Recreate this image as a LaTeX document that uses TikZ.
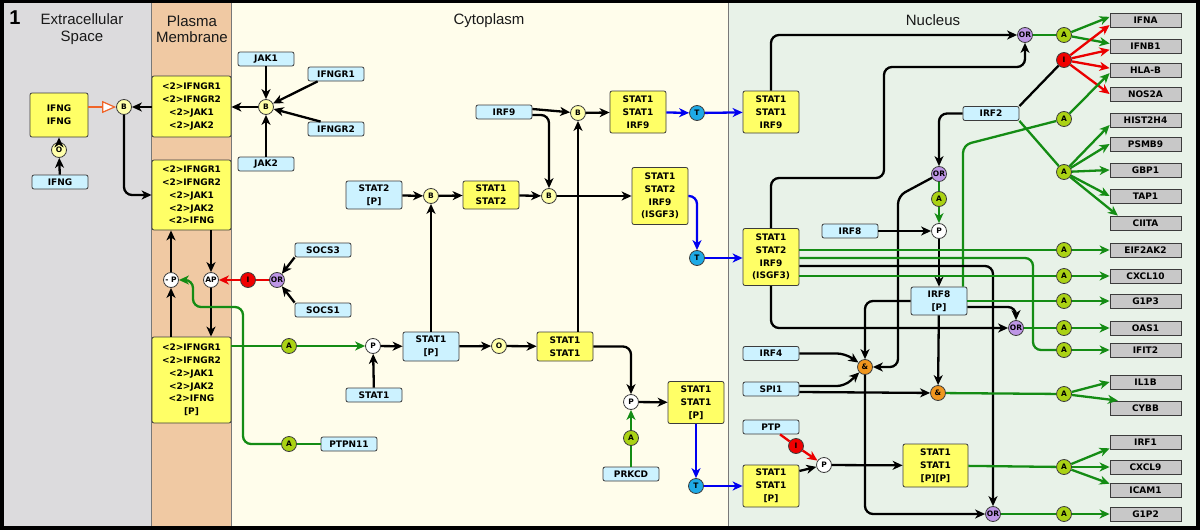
\documentclass[tikz,border=0pt]{standalone}
\usepackage{fontspec}
\setmainfont{Liberation Sans}
\newfontfamily\boxfont{DejaVu Sans}
\usetikzlibrary{arrows.meta}
\definecolor{extra}{RGB}{220,219,221}
\definecolor{membr}{RGB}{240,201,163}
\definecolor{cyto}{RGB}{255,253,235}
\definecolor{nucl}{RGB}{232,242,232}
\definecolor{boxline}{RGB}{60,60,60}
\definecolor{cplxfill}{RGB}{255,255,102}
\definecolor{protfill}{RGB}{204,242,255}
\definecolor{genefill}{RGB}{200,200,200}
\definecolor{actc}{RGB}{170,210,20}
\definecolor{bindc}{RGB}{255,255,170}
\definecolor{orc}{RGB}{190,150,230}
\definecolor{trc}{RGB}{30,170,230}
\definecolor{andc}{RGB}{240,150,30}
\definecolor{inhc}{RGB}{240,0,0}
\definecolor{actline}{RGB}{20,140,20}
\definecolor{trline}{RGB}{0,0,240}
\definecolor{inhline}{RGB}{235,0,0}
\definecolor{orgline}{RGB}{240,100,40}
\definecolor{divline}{RGB}{120,120,120}
\tikzset{
  hdr/.style={align=center, text=black!90, font=\fontsize{15}{16.5}\selectfont, inner sep=0pt},
  cplx/.style={draw=boxline, fill=cplxfill, rounded corners=2pt, line width=0.8pt, inner sep=0pt,
    align=center, minimum width=56pt, font=\boxfont\bfseries\fontsize{9}{12.8}\selectfont},
  prot/.style={cplx, fill=protfill, minimum height=14pt},
  gene/.style={cplx, fill=genefill, rounded corners=0pt, minimum width=71pt, minimum height=14pt},
  op/.style={circle, draw=boxline, fill=#1, line width=0.8pt, inner sep=0pt, minimum size=15pt,
    font=\boxfont\bfseries\fontsize{7.5}{8}\selectfont},
  ln/.style={line width=2.3pt, rounded corners=8pt},
  ar/.style={ln, -{Stealth[length=10pt,width=9pt,inset=3pt]}},
  gln/.style={ln, draw=actline},
  gar/.style={ar, draw=actline},
  rln/.style={ln, draw=inhline},
  rar/.style={ar, draw=inhline},
  bar/.style={ar, draw=trline},
  oar/.style={line width=2.3pt, draw=orgline, -{Triangle[length=14pt,width=12pt,fill=white,line width=1.2pt]}}
}
\begin{document}
\begin{tikzpicture}[x=1pt,y=-1pt]
\useasboundingbox (0,0) rectangle (1200,530);
\fill[black] (0,0) rectangle (1200,530);
\fill[extra] (4,3) rectangle (151,526);
\fill[membr] (151,3) rectangle (231,526);
\fill[cyto] (231,3) rectangle (728,526);
\fill[nucl] (728,3) rectangle (1196,526);
\draw[divline, line width=0.8pt] (151,3) -- (151,526);
\draw[divline, line width=0.8pt] (231,3) -- (231,526);
\draw[divline, line width=0.8pt] (728,3) -- (728,526);
\node[inner sep=0pt, font=\bfseries\fontsize{20}{20}\selectfont] (num) at (15,18) {1};
\node[hdr] (hext) at (82,29) {Extracellular\\Space};
\node[hdr] (hmem) at (192,29) {Plasma\\Membrane};
\node[hdr] (hcyt) at (489,21) {Cytoplasm};
\node[hdr] (hnuc) at (933,20) {Nucleus};

\node[cplx, minimum width=58pt, minimum height=44pt] (ifngg) at (59,115) {IFNG\\IFNG};
\node[op=bindc] (bnd1) at (124,107) {B};
\node[op=bindc] (olig1) at (59,150) {O};
\node[prot] (ifng) at (60,182) {IFNG};

\node[cplx, minimum width=79pt, minimum height=61pt] (rcx1) at (191.5,106.5) {<2>IFNGR1\\<2>IFNGR2\\<2>JAK1\\<2>JAK2};
\node[cplx, minimum width=79pt, minimum height=70pt] (rcx2) at (191.5,195) {<2>IFNGR1\\<2>IFNGR2\\<2>JAK1\\<2>JAK2\\<2>IFNG};
\node[cplx, minimum width=79pt, minimum height=86pt] (rcx3) at (191.5,380) {<2>IFNGR1\\<2>IFNGR2\\<2>JAK1\\<2>JAK2\\<2>IFNG\\{[P]}};
\node[op=white] (dphos) at (171,280) {- P};
\node[op=white] (autop) at (211,280) {AP};

\node[op=bindc] (bnd2) at (266,107) {B};
\node[prot] (jak1) at (266,59) {JAK1};
\node[prot] (ifngr1) at (336,74) {IFNGR1};
\node[prot] (ifngr2) at (336,129) {IFNGR2};
\node[prot] (jak2) at (266,164) {JAK2};
\node[op=inhc] (inh1) at (248,280) {I};
\node[op=orc] (or1) at (277,280) {OR};
\node[prot] (socs3) at (323,250) {SOCS3};
\node[prot] (socs1) at (323,310) {SOCS1};
\node[op=actc] (act1) at (289,346) {A};
\node[op=actc] (act2) at (289,444) {A};
\node[prot] (ptpn11) at (349,444) {PTPN11};
\node[op=white] (phos1) at (373,346) {P};
\node[prot] (stat1) at (374,395) {STAT1};
\node[prot, minimum height=29pt] (stat1p) at (431,346.5) {STAT1\\{[P]}};
\node[prot, minimum height=28pt] (stat2p) at (374,195) {STAT2\\{[P]}};
\node[op=bindc] (bnd3) at (431,196) {B};
\node[cplx, minimum height=28pt] (s1s2) at (491,195) {STAT1\\STAT2};
\node[op=bindc] (bnd4) at (549,196) {B};
\node[cplx, minimum height=57pt] (isgf3c) at (660,196) {STAT1\\STAT2\\IRF9\\(ISGF3)};
\node[prot] (irf9) at (504,112) {IRF9};
\node[op=bindc] (bnd5) at (578,113) {B};
\node[cplx, minimum height=42pt] (s1s1i9c) at (638,112) {STAT1\\STAT1\\IRF9};
\node[op=trc] (tr1) at (697,113) {T};
\node[op=trc] (tr2) at (697,258) {T};
\node[op=bindc] (olig2) at (499,346) {O};
\node[cplx, minimum height=29pt] (s1s1) at (565,346.5) {STAT1\\STAT1};
\node[op=white] (phos2) at (631,402) {P};
\node[cplx, minimum height=42pt] (s1s1pc) at (696,402.5) {STAT1\\STAT1\\{[P]}};
\node[op=actc] (act3) at (631,438) {A};
\node[prot] (prkcd) at (631,474) {PRKCD};
\node[op=trc] (tr3) at (696,486) {T};

\node[cplx, minimum height=42pt] (s1s1i9n) at (771,112) {STAT1\\STAT1\\IRF9};
\node[cplx, minimum height=57pt] (isgf3n) at (771,257) {STAT1\\STAT2\\IRF9\\(ISGF3)};
\node[cplx, minimum height=42pt] (s1s1pn) at (771,486) {STAT1\\STAT1\\{[P]}};
\node[prot] (irf2) at (991,113.5) {IRF2};
\node[op=orc] (or2) at (1025,35) {OR};
\node[op=orc] (or3) at (939,174) {OR};
\node[op=orc] (or4) at (1016,328) {OR};
\node[op=orc] (or5) at (993,514) {OR};
\node[op=inhc] (inh2) at (1064,60) {I};
\node[prot] (irf8) at (850,231) {IRF8};
\node[op=white] (phos3) at (939,231) {P};
\node[op=actc] (act4) at (939,199) {A};
\node[prot, minimum height=28pt] (irf8p) at (939,301) {IRF8\\{[P]}};
\node[prot] (irf4) at (771,353.5) {IRF4};
\node[prot] (spi1) at (771,389) {SPI1};
\node[prot] (ptp) at (771,427) {PTP};
\node[op=andc] (and1) at (865,367) {\&};
\node[op=andc] (and2) at (938,393) {\&};
\node[op=inhc] (inh3) at (796,446) {I};
\node[op=white] (phos4) at (824,465) {P};
\node[cplx, minimum width=65pt, minimum height=43pt] (s1s1ppn) at (935.5,465.5) {STAT1\\STAT1\\{[P][P]}};

\node[op=actc] (ga1) at (1064,35) {A};
\node[op=actc] (ga2) at (1064,119) {A};
\node[op=actc] (ga3) at (1064,172) {A};
\node[op=actc] (ga4) at (1064,250) {A};
\node[op=actc] (ga5) at (1064,276) {A};
\node[op=actc] (ga6) at (1064,301) {A};
\node[op=actc] (ga7) at (1064,328) {A};
\node[op=actc] (ga8) at (1064,350) {A};
\node[op=actc] (ga9) at (1064,394) {A};
\node[op=actc] (ga10) at (1064,467) {A};
\node[op=actc] (ga11) at (1064,514) {A};

\node[gene] (ifna) at (1145.5,20) {IFNA};
\node[gene] (ifnb1) at (1145.5,46) {IFNB1};
\node[gene] (hlab) at (1145.5,70) {HLA-B};
\node[gene] (nos2a) at (1145.5,94) {NOS2A};
\node[gene] (hist) at (1145.5,120) {HIST2H4};
\node[gene] (psmb9) at (1145.5,144) {PSMB9};
\node[gene] (gbp1) at (1145.5,170) {GBP1};
\node[gene] (tap1) at (1145.5,196) {TAP1};
\node[gene] (ciita) at (1145.5,223) {CIITA};
\node[gene] (eif) at (1145.5,250) {EIF2AK2};
\node[gene] (cxcl10) at (1145.5,276) {CXCL10};
\node[gene] (gip3) at (1145.5,301) {G1P3};
\node[gene] (oas1) at (1145.5,328) {OAS1};
\node[gene] (ifit2) at (1145.5,350) {IFIT2};
\node[gene] (il1b) at (1145.5,382) {IL1B};
\node[gene] (cybb) at (1145.5,408) {CYBB};
\node[gene] (irf1) at (1145.5,442) {IRF1};
\node[gene] (cxcl9) at (1145.5,467) {CXCL9};
\node[gene] (icam1) at (1145.5,490) {ICAM1};
\node[gene] (gip2) at (1145.5,514) {G1P2};

\draw[ar] (ifng) -- (olig1);
\draw[ar] (olig1) -- (ifngg);
\draw[oar] (ifngg.east |- bnd1) -- (bnd1);
\draw[ar] (rcx1.west |- bnd1) -- (bnd1);
\draw[ar] (bnd1) |- (rcx2);
\draw[ar] (bnd2) -- (rcx1.east |- bnd2);
\draw[ar] (jak1) -- (bnd2);
\draw[ar] (jak2) -- (bnd2);
\draw[ar] ([xshift=10pt]ifngr1.south west) -- (bnd2);
\draw[ar] ([xshift=13pt]ifngr2.north west) -- (bnd2);
\draw[ar] (rcx2.south -| autop) -- (autop);
\draw[ar] (autop) -- (rcx3.north -| autop);
\draw[ar] (rcx3.north -| dphos) -- (dphos);
\draw[ar] (dphos) -- (rcx2.south -| dphos);
\draw[rln] (or1) -- (inh1);
\draw[rar] (inh1) -- (autop);
\draw[ar] (socs3.south west) -- (or1);
\draw[ar] (socs1.north west) -- (or1);
\draw[gln] (ptpn11) -- (act2);
\draw[gar] (act2) -| (243,307) -| (193,280) -- (dphos);
\draw[gln] (rcx3.east |- act1) -- (act1);
\draw[gar] (act1) -- (phos1);

\draw[ar] (stat1) -- (phos1);
\draw[ar] (phos1) -- (stat1p);
\draw[ar] (stat1p) -- (bnd3);
\draw[ar] (stat2p) -- (bnd3);
\draw[ar] (bnd3) -- (s1s2);
\draw[ar] (s1s2) -- (bnd4);
\draw[ar] (bnd4) -- (isgf3c);
\draw[ar] ([yshift=3pt]irf9.east) -- (bnd5);
\draw[ar] ([yshift=-3pt]irf9.east) -| (bnd4);
\draw[ar] (s1s1.north -| bnd5) -- (bnd5);
\draw[ar] (bnd5) -- (s1s1i9c);
\draw[bar] (s1s1i9c) -- (tr1);
\draw[bar] (tr1) -- (s1s1i9n);
\draw[bar] (isgf3c) -| (tr2);
\draw[bar] (tr2) -- (isgf3n.west |- tr2);
\draw[ar] (stat1p) -- (olig2);
\draw[ar] (olig2) -- (s1s1);
\draw[ar] (s1s1) -| (phos2);
\draw[ar] (phos2) -- (s1s1pc);
\draw[gln] (prkcd) -- (act3);
\draw[gar] (act3) -- (phos2);
\draw[bar] (s1s1pc) -- (tr3);
\draw[bar] (tr3) -- (s1s1pn.west |- tr3);

\draw[ar] (s1s1i9n) |- (or2);
\draw[ar] (isgf3n) |- (884,178) |- (1025,67) -- (or2);
\draw[ar] (irf2.west) -| (or3);
\draw[ln] (irf2.north east) -- (inh2);
\draw[gln] (irf2.south east) -- (ga3);
\draw[gln] (or2) -- (ga1);
\draw[gar] (ga1) -- (ifna.175);
\draw[gar] (ga1) -- (ifnb1.176);
\draw[rar] (inh2) -- (ifna.188);
\draw[rar] (inh2) -- (ifnb1.186);
\draw[rar] (inh2) -- (hlab.177);
\draw[rar] (inh2) -- (nos2a.west);
\draw[gln] ([xshift=24pt]irf8p.north) -- (963,145) -- (ga2);
\draw[gar] (ga2) -- (hlab.185);
\draw[gar] (ga3) -- (hist.188);
\draw[gar] (ga3) -- (psmb9.west);
\draw[gar] (ga3) -- (gbp1.west);
\draw[gar] (ga3) -- (tap1.west);
\draw[gar] (ga3) -- (ciita.165);
\draw[gln] (or3) -- (act4);
\draw[gar] (act4) -- (phos3);
\draw[ar] (irf8) -- (phos3);
\draw[ar] (phos3) -- (irf8p);
\draw[ar] (irf8p) -- (and2);
\draw[ar] (irf8p.west) -| (and1);
\draw[ar] (or3) -- (898,196) |- (and1);
\draw[ar] (irf4.east) -- (845,353.5) -- (and1);
\draw[ar] ([yshift=3pt]spi1.east) -- (845,386) -- (and1);
\draw[ar] ([yshift=-3pt]spi1.east) -- (and2);
\draw[ar] (and1) |- (or5);
\draw[ar] ([yshift=-9pt]isgf3n.east) -| (or5);
\draw[gln] ([yshift=7pt]isgf3n.east) -- (ga4);
\draw[gln] ([yshift=-1pt]isgf3n.east) -| (1033,350) -- (ga8);
\draw[gln] ([yshift=-19pt]isgf3n.east) -- (ga5);
\draw[ar] (isgf3n.south) |- (or4);
\draw[ar] ([yshift=-6pt]irf8p.east) -| (or4);
\draw[gln] (irf8p.east) -- (ga6);
\draw[gln] (or4) -- (ga7);
\draw[gln] (and2) -- (ga9);
\draw[rln] ([xshift=9pt]ptp.south) -- (inh3);
\draw[rar] (inh3) -- (phos4);
\draw[ar] ([yshift=15pt]s1s1pn.east) -- (phos4);
\draw[ar] (phos4) -- (s1s1ppn);
\draw[gln] (s1s1ppn) -- (ga10);
\draw[gln] (or5) -- (ga11);
\draw[gar] (ga4) -- (eif);
\draw[gar] (ga5) -- (cxcl10);
\draw[gar] (ga6) -- (gip3);
\draw[gar] (ga7) -- (oas1);
\draw[gar] (ga8) -- (ifit2);
\draw[gar] (ga9) -- (il1b.west);
\draw[gar] (ga9) -- (cybb.165);
\draw[gar] (ga10) -- (irf1.190);
\draw[gar] (ga10) -- (cxcl9);
\draw[gar] (ga10) -- (icam1.170);
\draw[gar] (ga11) -- (gip2);
\end{tikzpicture}
\end{document}
